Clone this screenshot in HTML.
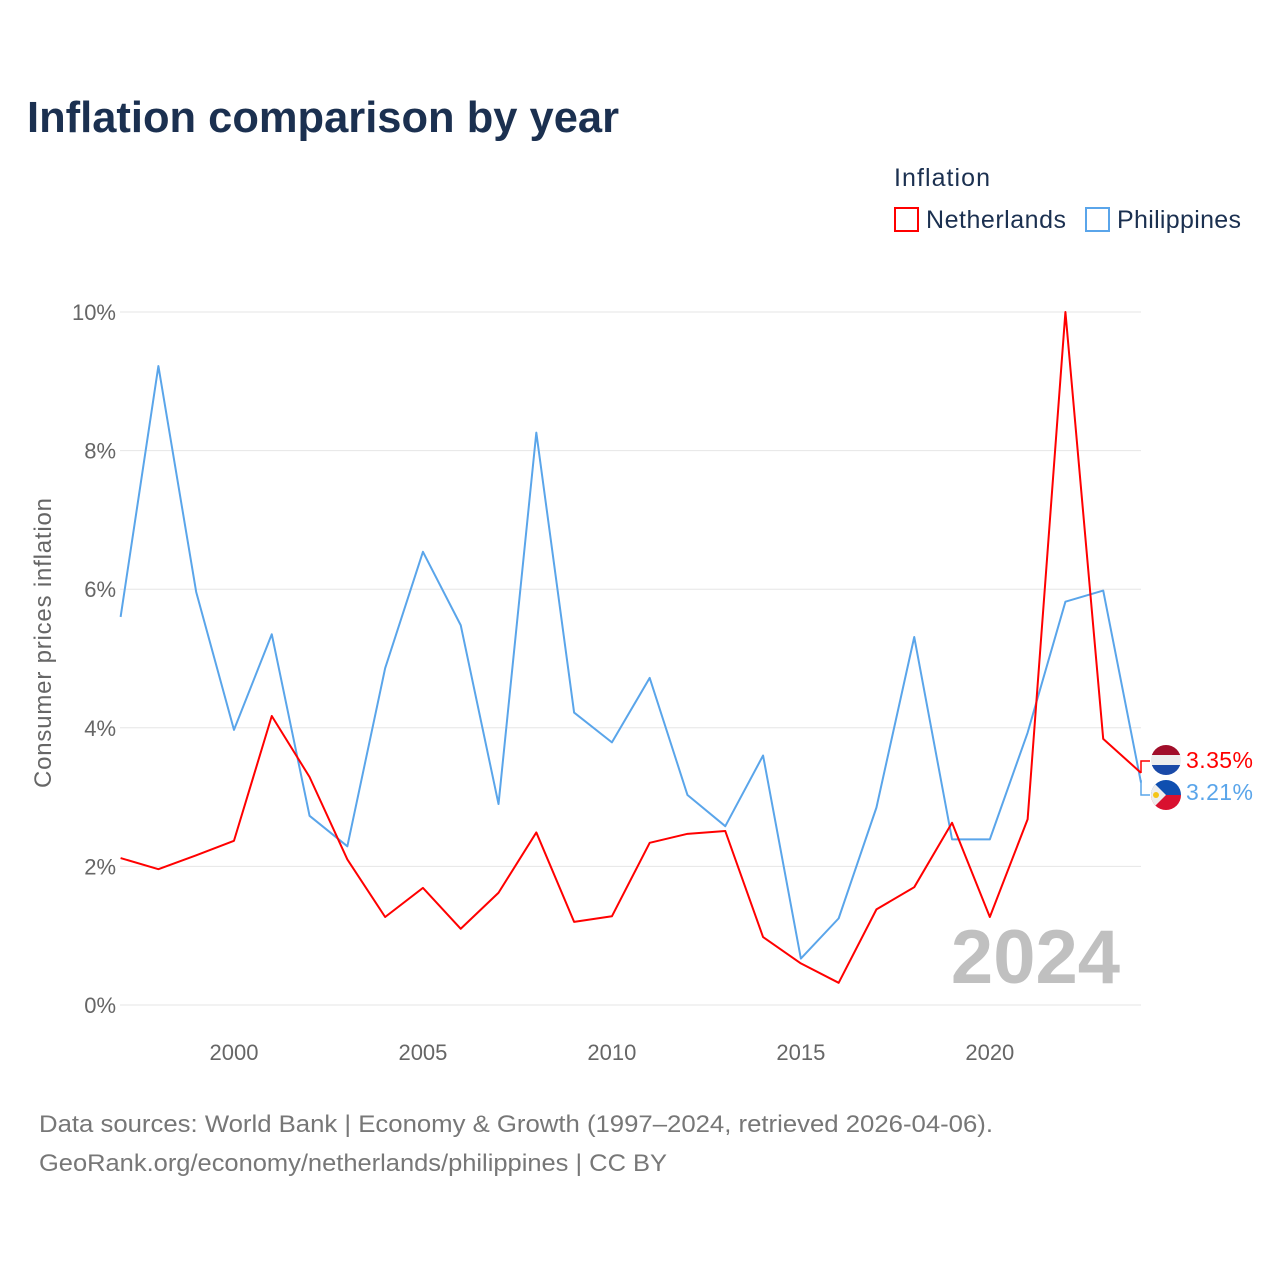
<!DOCTYPE html>
<html><head><meta charset="utf-8"><style>
body{margin:0;background:#fff;font-family:"Liberation Sans",sans-serif}
</style></head><body>
<svg width="1280" height="1280" viewBox="0 0 1280 1280" xmlns="http://www.w3.org/2000/svg">
<rect width="1280" height="1280" fill="#fff"/>
<text x="27" y="132" font-size="44" font-weight="bold" fill="#1b3050" textLength="592" lengthAdjust="spacingAndGlyphs">Inflation comparison by year</text>
<text x="894" y="186" font-size="25" fill="#1b3050" textLength="96">Inflation</text>
<g><rect x="895" y="208" width="23" height="23" fill="none" stroke="#f00" stroke-width="2"/><text x="926" y="228" font-size="25" fill="#1b3050" textLength="140">Netherlands</text></g>
<g><rect x="1086" y="208" width="23" height="23" fill="none" stroke="#5aa5ea" stroke-width="2"/><text x="1117" y="228" font-size="25" fill="#1b3050" textLength="124">Philippines</text></g>
<g id="grid"></g><g id="xt"></g>
<text transform="translate(51,643) rotate(-90)" text-anchor="middle" font-size="24" fill="#666" textLength="290">Consumer prices inflation</text>
<text x="1120" y="983" text-anchor="end" font-size="76" font-weight="bold" fill="#c0c0c0">2024</text>
<g id="lines"></g>
<g>
<polyline points="1141,773 1141,761 1150,761" fill="none" stroke="#f00" stroke-width="1.5"/>
<polyline points="1141,780 1141,795 1150,795" fill="none" stroke="#5aa5ea" stroke-width="1.5"/>
<clipPath id="c1"><circle cx="1166" cy="760" r="15"/></clipPath>
<g clip-path="url(#c1)"><rect x="1150" y="744" width="32" height="11" fill="#a10e2a"/><rect x="1150" y="755" width="32" height="10" fill="#eee"/><rect x="1150" y="765" width="32" height="11" fill="#1a4aa8"/></g>
<clipPath id="c2"><circle cx="1166" cy="795" r="15"/></clipPath>
<g clip-path="url(#c2)"><rect x="1150" y="779" width="32" height="16" fill="#0f4fb0"/><rect x="1150" y="795" width="32" height="16" fill="#d9102f"/><polygon points="1150,779 1166,795 1150,811" fill="#eee"/><circle cx="1156" cy="795" r="3" fill="#f5c518"/></g>
<text x="1186" y="768" font-size="23" fill="#f00" textLength="67">3.35%</text>
<text x="1186" y="800" font-size="23" fill="#5aa5ea" textLength="67">3.21%</text>
</g>
<text x="39" y="1132" font-size="24" fill="#777" textLength="954" lengthAdjust="spacingAndGlyphs">Data sources: World Bank | Economy &amp; Growth (1997–2024, retrieved 2026-04-06).</text>
<text x="39" y="1171" font-size="24" fill="#777" textLength="628" lengthAdjust="spacingAndGlyphs">GeoRank.org/economy/netherlands/philippines | CC BY</text>
</svg>
<script>
const years=[1997,1998,1999,2000,2001,2002,2003,2004,2005,2006,2007,2008,2009,2010,2011,2012,2013,2014,2015,2016,2017,2018,2019,2020,2021,2022,2023,2024];
const netherlands=[2.12,1.96,2.16,2.37,4.17,3.29,2.1,1.27,1.69,1.1,1.62,2.49,1.2,1.28,2.34,2.47,2.51,0.98,0.6,0.32,1.38,1.7,2.63,1.27,2.68,10.0,3.84,3.35];
const philippines=[5.6,9.22,5.96,3.97,5.35,2.73,2.29,4.86,6.54,5.48,2.9,8.26,4.22,3.79,4.72,3.03,2.58,3.6,0.67,1.25,2.85,5.31,2.39,2.39,3.93,5.82,5.98,3.21];
const yTicks=[0,2,4,6,8,10];
const xTicks=[2000,2005,2010,2015,2020];
const NS="http://www.w3.org/2000/svg";
const X=y=>120.6+(y-1997)*(1141-120.6)/27;
const Y=v=>1005-v*69.3;
function mk(t,a,p){const e=document.createElementNS(NS,t);for(const k in a)e.setAttribute(k,a[k]);p.appendChild(e);return e;}
const g=document.getElementById('grid');
yTicks.forEach(v=>{
 const l=mk('line',{x1:120,x2:1141,y1:Y(v),y2:Y(v),stroke:'#e6e6e6','stroke-width':1},g);
 
 
 const t=mk('text',{x:116,y:Y(v)+8,'text-anchor':'end','font-size':22,fill:'#666'},g);
 t.textContent=v+'%';
 
 
});
const xt=document.getElementById('xt');
xTicks.forEach(v=>{
 const t=mk('text',{x:X(v),y:1060,'text-anchor':'middle','font-size':22,fill:'#666'},xt);
 t.textContent=v;
 
 
});
const lg=document.getElementById('lines');
[[philippines,'#5aa5ea','philippines-line'],[netherlands,'#f00','netherlands-line']].forEach(([d,c,n])=>{
 const p=mk('polyline',{points:d.map((v,i)=>X(years[i])+','+Y(v)).join(' '),fill:'none',stroke:c,'stroke-width':2,'stroke-linejoin':'round'},lg);
 
 
});
</script>
</body></html>
